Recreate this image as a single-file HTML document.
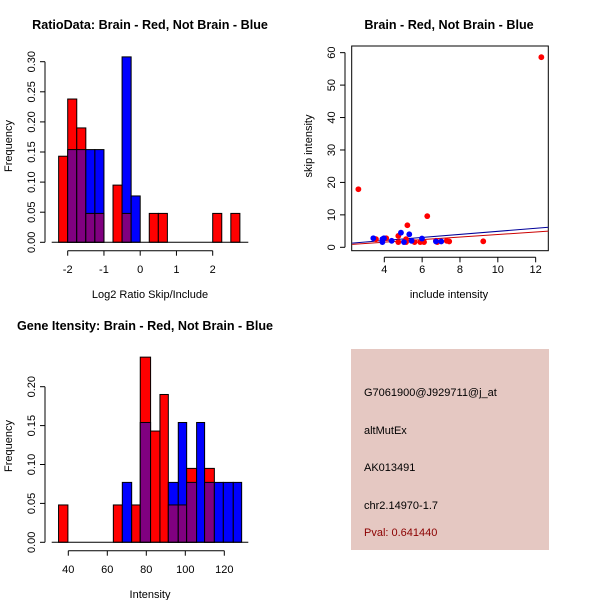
<!DOCTYPE html>
<html><head><meta charset="utf-8"><style>
body{margin:0;background:#fff;}
svg{display:block;font-family:"Liberation Sans",Arial,sans-serif;}
.t{font-size:11px;fill:#000}
.title{font-size:12.6px;font-weight:bold;fill:#000}
</style></head><body>
<svg id="c" width="600" height="600" viewBox="0 0 600 600">
<rect x="0" y="0" width="600" height="600" fill="#fff"/>
<text class="title" x="150" y="29" text-anchor="middle">RatioData: Brain - Red, Not Brain - Blue</text>
<text class="title" x="449" y="29" text-anchor="middle">Brain - Red, Not Brain - Blue</text>
<text class="title" x="145" y="330" text-anchor="middle">Gene Itensity: Brain - Red, Not Brain - Blue</text>
<rect x="351" y="349" width="198" height="201" fill="#E5C8C2"/>
<text class="t" x="364" y="396">G7061900@J929711@j_at</text>
<text class="t" x="364" y="434">altMutEx</text>
<text class="t" x="364" y="471">AK013491</text>
<text class="t" x="364" y="509">chr2.14970-1.7</text>
<text class="t" x="364" y="536" fill="#8B0000" style="fill:#8B0000">Pval: 0.641440</text>
<g id="g"></g>
</svg>
<script>
// Ratio histogram data
const ratioBinStart = [-2.25,-2,-1.75,-1.5,-1.25,-1,-0.75,-0.5,-0.25,0,0.25,0.5,0.75,1,1.25,1.5,1.75,2,2.25,2.5];
const ratioBinWidth = 0.25;
const ratioRed  = [0.143,0.238,0.190,0.048,0.048,0,0.095,0.048,0,0,0.048,0.048,0,0,0,0,0,0.048,0,0.048];
const ratioBlue = [0,0.154,0.154,0.154,0.154,0,0,0.308,0.077,0,0,0,0,0,0,0,0,0,0,0];
const ratioXTicks = [-2,-1,0,1,2];
const ratioYTicks = [0,0.05,0.10,0.15,0.20,0.25,0.30];
const ratioYLabels = ["0.00","0.05","0.10","0.15","0.20","0.25","0.30"];
// Intensity histogram data
const intStart = [35,63.1,67.7,72.5,76.9,82.2,87,91.3,96.4,100.7,105.8,109.9,114.9,119.5,124.6];
const intEnd   = [39.8,67.7,72.5,76.9,82.2,87,91.3,96.4,100.7,105.8,109.9,114.9,119.5,124.6,128.9];
const intRed   = [0.048,0.048,0,0.048,0.238,0.143,0.190,0.048,0.048,0.095,0,0.095,0,0,0];
const intBlue  = [0,0,0.077,0,0.154,0,0,0.077,0.154,0.077,0.154,0.077,0.077,0.077,0.077];
const intXTicks = [40,60,80,100,120];
const intYTicks = [0,0.05,0.10,0.15,0.20];
const intYLabels = ["0.00","0.05","0.10","0.15","0.20"];
// Scatter data
const redX = [2.63,12.3,6.27,5.22,4.74,9.23,3.56,4.1,5.15,5.15,4.74,5.6,5.9,6.1,6.73,6.8,7.3,7.43];
const redY = [17.9,58.6,9.6,6.8,3.5,1.85,2.5,2.8,2.5,1.6,1.6,1.6,1.6,1.6,2.0,1.6,2.0,1.8];
const blueX = [3.42,3.9,3.98,3.9,4.39,4.88,5.32,5.04,5.44,5.99,7.01,6.73];
const blueY = [2.8,2.5,2.8,1.6,2.0,4.5,4.0,1.6,2.0,2.7,1.8,1.8];
const fitIntercept = [0.0,0.22];   // red, blue
const fitSlope = [0.394,0.47];
const scXTicks = [4,6,8,10,12];
const scYTicks = [0,10,20,30,40,50,60];

const NS="http://www.w3.org/2000/svg";
const g=document.getElementById('g');
function el(tag,attrs,name,parent){
  const e=document.createElementNS(NS,tag);
  for(const k in attrs) e.setAttribute(k,attrs[k]);
  
  
  (parent||g).appendChild(e);return e;
}
function line(x1,y1,x2,y2,name,col){return el('line',{x1,y1,x2,y2,stroke:col||'#000','stroke-width':1},name);}
function txt(x,y,s,name,rot,anchor){
  const a={x,y,'class':'t','text-anchor':anchor||'middle'};
  if(rot) a.transform='rotate(-90 '+x+' '+y+')';
  const e=el('text',a,name);e.textContent=s;return e;
}
function bar(x0,x1,yTop,y0,col,name){
  el('rect',{x:Math.min(x0,x1),y:yTop,width:Math.abs(x1-x0),height:y0-yTop,fill:col,stroke:'#000','stroke-width':1},name);
}
function drawHist(starts,ends,red,blue,xs,ys){
  for(let i=0;i<starts.length;i++){
    const r=red[i],b=blue[i];
    if(r===0&&b===0) continue;
    const x0=xs(starts[i]),x1=xs(ends[i]);
    const mx=Math.max(r,b),mn=Math.min(r,b);
    bar(x0,x1,ys(mx),ys(0),r>=b?'#ff0000':'#0000ff','bar-'+(r>=b?'red':'blue')+'-'+i);
    if(mn>0) bar(x0,x1,ys(mn),ys(0),'#800080','bar-overlap-'+i);
  }
}
// Ratio histogram
{
  const xs=v=>67.7+(v+2)*36.25, ys=v=>242.3-v*602;
  drawHist(ratioBinStart,ratioBinStart.map(s=>s+ratioBinWidth),ratioRed,ratioBlue,xs,ys);
  line(51.7,242.3,248.3,242.3,'ratio-baseline');
  line(45,ys(0),45,ys(0.30),'ratio-y-axis');
  ratioYTicks.forEach((v,i)=>{line(40,ys(v),45,ys(v),'ratio-y-tick');txt(35,ys(v),ratioYLabels[i],'ratio-y-label',true);});
  line(xs(-2),250.7,xs(2),250.7,'ratio-x-axis');
  ratioXTicks.forEach(v=>{line(xs(v),250.7,xs(v),255.7,'ratio-x-tick');txt(xs(v),273,String(v),'ratio-x-label');});
  txt(150,298,'Log2 Ratio Skip/Include','ratio-x-title');
  txt(12,146,'Frequency','ratio-y-title',true);
}
// Intensity histogram
{
  const xs=v=>68.3+(v-40)*1.95, ys=v=>542.3-v*778;
  drawHist(intStart,intEnd,intRed,intBlue,xs,ys);
  line(51.7,542.3,248.3,542.3,'intensity-baseline');
  line(45,ys(0),45,ys(0.20),'intensity-y-axis');
  intYTicks.forEach((v,i)=>{line(40,ys(v),45,ys(v),'intensity-y-tick');txt(35,ys(v),intYLabels[i],'intensity-y-label',true);});
  line(xs(40),550.7,xs(120),550.7,'intensity-x-axis');
  intXTicks.forEach(v=>{line(xs(v),550.7,xs(v),555.7,'intensity-x-tick');txt(xs(v),573,String(v),'intensity-x-label');});
  txt(150,598,'Intensity','intensity-x-title');
  txt(12,446,'Frequency','intensity-y-title',true);
}
// Scatter
{
  const xs=v=>384.3+(v-4)*18.92, ys=v=>247.3-v*3.244;
  el('rect',{x:351.7,y:46,width:196.6,height:204.7,fill:'none',stroke:'#000','stroke-width':1},'scatter-plot-box');
  const clip=el('clipPath',{id:'sc'},'scatter-clip');
  el('rect',{x:351.7,y:46,width:196.6,height:204.7},'scatter-clip-rect',clip);
  const cols=['#cc0000','#000099'];
  for(let k=0;k<2;k++){
    const xa=2.3,xb=12.7;
    el('line',{x1:xs(xa),y1:ys(fitIntercept[k]+fitSlope[k]*xa),x2:xs(xb),y2:ys(fitIntercept[k]+fitSlope[k]*xb),stroke:cols[k],'stroke-width':1,'clip-path':'url(#sc)'},k?'blue-fit-line':'red-fit-line');
  }
  redX.forEach((x,i)=>el('circle',{cx:xs(x),cy:ys(redY[i]),r:2.9,fill:'#ff0000'},'red-point'));
  blueX.forEach((x,i)=>el('circle',{cx:xs(x),cy:ys(blueY[i]),r:2.9,fill:'#0000ff'},'blue-point'));
  line(345,ys(0),345,ys(60),'scatter-y-axis');
  scYTicks.forEach(v=>{line(340,ys(v),345,ys(v),'scatter-y-tick');txt(335,ys(v),String(v),'scatter-y-label',true);});
  line(xs(4),257.3,xs(12),257.3,'scatter-x-axis');
  scXTicks.forEach(v=>{line(xs(v),257.3,xs(v),262.3,'scatter-x-tick');txt(xs(v),273,String(v),'scatter-x-label');});
  txt(449,298,'include intensity','scatter-x-title');
  txt(312,146,'skip intensity','scatter-y-title',true);
}
</script>
</body></html>
